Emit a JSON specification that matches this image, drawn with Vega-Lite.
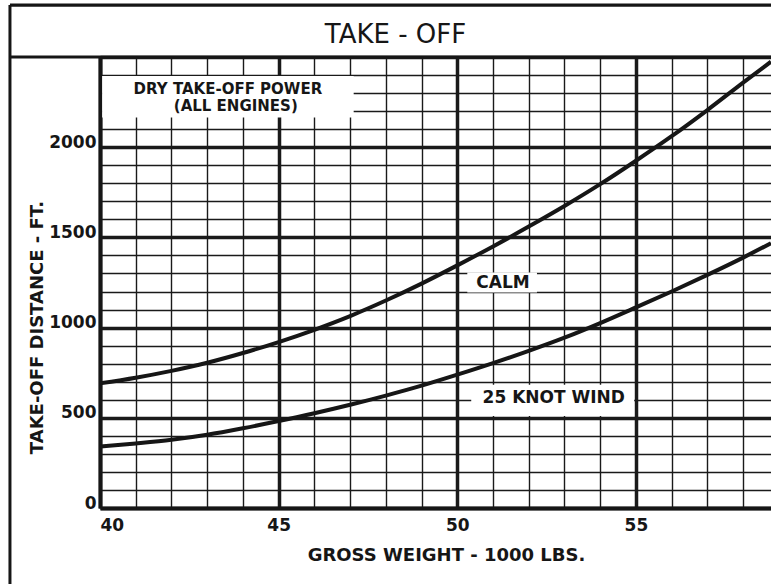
{
  "$schema": "https://vega.github.io/schema/vega-lite/v6.json",
  "width": 671,
  "height": 451,
  "autosize": {"type": "none"},
  "padding": {"left": 100, "top": 57, "right": 0, "bottom": 76},
  "background": "white",
  "config": {
    "view": {"stroke": null},
    "font": "DejaVu Sans",
    "axis": {
      "grid": true,
      "gridColor": "#1a1a1a",
      "gridOpacity": 1,
      "ticks": false,
      "domain": true,
      "domainWidth": 4,
      "domainColor": "#161616",
      "labelFont": "DejaVu Sans",
      "labelFontSize": 17,
      "labelFontWeight": "bold",
      "labelColor": "#161616",
      "labelOverlap": false,
      "labelBound": false,
      "titleFont": "DejaVu Sans",
      "titleFontSize": 18,
      "titleFontWeight": "bold",
      "titleColor": "#161616"
    }
  },
  "title": {
    "text": "TAKE - OFF",
    "fontSize": 26,
    "fontWeight": "normal",
    "font": "DejaVu Sans",
    "color": "#161616",
    "anchor": "middle",
    "frame": "group",
    "dx": -40,
    "dy": 78.75,
    "offset": 13,
    "baseline": "alphabetic"
  },
  "datasets": {
    "curves": [
      {"series": "CALM", "weight": 40, "distance": 691},
      {"series": "CALM", "weight": 41, "distance": 722},
      {"series": "CALM", "weight": 42, "distance": 760},
      {"series": "CALM", "weight": 43, "distance": 805},
      {"series": "CALM", "weight": 44, "distance": 859},
      {"series": "CALM", "weight": 45, "distance": 920},
      {"series": "CALM", "weight": 46, "distance": 988},
      {"series": "CALM", "weight": 47, "distance": 1064},
      {"series": "CALM", "weight": 48, "distance": 1150},
      {"series": "CALM", "weight": 49, "distance": 1244},
      {"series": "CALM", "weight": 50, "distance": 1345},
      {"series": "CALM", "weight": 51, "distance": 1450},
      {"series": "CALM", "weight": 52, "distance": 1560},
      {"series": "CALM", "weight": 53, "distance": 1674},
      {"series": "CALM", "weight": 54, "distance": 1795},
      {"series": "CALM", "weight": 55, "distance": 1925},
      {"series": "CALM", "weight": 56, "distance": 2061},
      {"series": "CALM", "weight": 57, "distance": 2206},
      {"series": "CALM", "weight": 58, "distance": 2358},
      {"series": "CALM", "weight": 58.78, "distance": 2474},
      {"series": "25 KNOT WIND", "weight": 40, "distance": 341},
      {"series": "25 KNOT WIND", "weight": 41, "distance": 358},
      {"series": "25 KNOT WIND", "weight": 42, "distance": 378},
      {"series": "25 KNOT WIND", "weight": 43, "distance": 406},
      {"series": "25 KNOT WIND", "weight": 44, "distance": 442},
      {"series": "25 KNOT WIND", "weight": 45, "distance": 482},
      {"series": "25 KNOT WIND", "weight": 46, "distance": 525},
      {"series": "25 KNOT WIND", "weight": 47, "distance": 572},
      {"series": "25 KNOT WIND", "weight": 48, "distance": 623},
      {"series": "25 KNOT WIND", "weight": 49, "distance": 678},
      {"series": "25 KNOT WIND", "weight": 50, "distance": 739},
      {"series": "25 KNOT WIND", "weight": 51, "distance": 803},
      {"series": "25 KNOT WIND", "weight": 52, "distance": 871},
      {"series": "25 KNOT WIND", "weight": 53, "distance": 944},
      {"series": "25 KNOT WIND", "weight": 54, "distance": 1025},
      {"series": "25 KNOT WIND", "weight": 55, "distance": 1112},
      {"series": "25 KNOT WIND", "weight": 56, "distance": 1200},
      {"series": "25 KNOT WIND", "weight": 57, "distance": 1292},
      {"series": "25 KNOT WIND", "weight": 58, "distance": 1388},
      {"series": "25 KNOT WIND", "weight": 58.78, "distance": 1468}
    ],
    "boxes": [
      {"name": "power", "x1": 40.06, "x2": 47.1, "y1": 2165, "y2": 2395},
      {"name": "calm", "x1": 50.28, "x2": 52.23, "y1": 1194, "y2": 1306},
      {"name": "wind", "x1": 50.39, "x2": 54.95, "y1": 510, "y2": 683}
    ],
    "labels": [
      {"text": "DRY TAKE-OFF POWER", "weight": 43.58, "distance": 2322, "size": "small"},
      {"text": "(ALL ENGINES)", "weight": 43.8, "distance": 2228, "size": "small"},
      {"text": "CALM", "weight": 51.28, "distance": 1250, "size": "large"},
      {"text": "25 KNOT WIND", "weight": 52.7, "distance": 611, "size": "large"}
    ]
  },
  "layer": [
    {
      "data": {"name": "curves"},
      "mark": {"type": "line", "strokeWidth": 4, "color": "#161616", "interpolate": "monotone", "clip": true},
      "encoding": {
        "x": {
          "field": "weight", "type": "quantitative",
          "scale": {"domain": [40, 58.78], "nice": false, "zero": false},
          "axis": {"orient": "bottom", "values": [40, 40.5, 41, 41.5, 42, 42.5, 43, 43.5, 44, 44.5, 45, 45.5, 46, 46.5, 47, 47.5, 48, 48.5, 49, 49.5, 50, 50.5, 51, 51.5, 52, 52.5, 53, 53.5, 54, 54.5, 55, 55.5, 56, 56.5, 57, 57.5, 58, 58.5], "format": "d", "gridWidth": {"condition": {"test": "datum.value % 5 === 0", "value": 3.5}, "value": 1.4}, "labelExpr": "datum.value % 5 === 0 ? datum.label : ''", "labelPadding": 9, "labelFlush": true, "title": "GROSS WEIGHT - 1000 LBS.", "titleX": 346, "titleY": 52, "titleAlign": "center", "titleBaseline": "alphabetic"}
        },
        "y": {
          "field": "distance", "type": "quantitative",
          "scale": {"domain": [0, 2500], "nice": false, "zero": false},
          "axis": {"orient": "left", "values": [0, 100, 200, 300, 400, 500, 600, 700, 800, 900, 1000, 1100, 1200, 1300, 1400, 1500, 1600, 1700, 1800, 1900, 2000, 2100, 2200, 2300, 2400, 2500], "format": "d", "gridWidth": {"condition": {"test": "datum.value % 500 === 0", "value": 3.5}, "value": 1.4}, "labelExpr": "datum.value % 500 === 0 && datum.value < 2500 ? datum.label : ''", "labelPadding": 4, "labelBaseline": "alphabetic", "labelFlush": false, "title": "TAKE-OFF DISTANCE - FT.", "titleAngle": 270, "titleX": -58, "titleY": 270, "titleAlign": "center", "titleBaseline": "alphabetic"}
        },
        "detail": {"field": "series", "type": "nominal"}
      }
    },
    {
      "data": {"name": "boxes"},
      "mark": {"type": "rect", "color": "white", "strokeWidth": 0},
      "encoding": {
        "x": {
          "field": "x1", "type": "quantitative",
          "scale": {"domain": [40, 58.78], "nice": false, "zero": false},
          "axis": {"orient": "bottom", "values": [40, 40.5, 41, 41.5, 42, 42.5, 43, 43.5, 44, 44.5, 45, 45.5, 46, 46.5, 47, 47.5, 48, 48.5, 49, 49.5, 50, 50.5, 51, 51.5, 52, 52.5, 53, 53.5, 54, 54.5, 55, 55.5, 56, 56.5, 57, 57.5, 58, 58.5], "format": "d", "gridWidth": {"condition": {"test": "datum.value % 5 === 0", "value": 3.5}, "value": 1.4}, "labelExpr": "datum.value % 5 === 0 ? datum.label : ''", "labelPadding": 9, "labelFlush": true, "title": "GROSS WEIGHT - 1000 LBS.", "titleX": 346, "titleY": 52, "titleAlign": "center", "titleBaseline": "alphabetic"}
        },
        "x2": {"field": "x2"},
        "y": {
          "field": "y1", "type": "quantitative",
          "scale": {"domain": [0, 2500], "nice": false, "zero": false},
          "axis": {"orient": "left", "values": [0, 100, 200, 300, 400, 500, 600, 700, 800, 900, 1000, 1100, 1200, 1300, 1400, 1500, 1600, 1700, 1800, 1900, 2000, 2100, 2200, 2300, 2400, 2500], "format": "d", "gridWidth": {"condition": {"test": "datum.value % 500 === 0", "value": 3.5}, "value": 1.4}, "labelExpr": "datum.value % 500 === 0 && datum.value < 2500 ? datum.label : ''", "labelPadding": 4, "labelBaseline": "alphabetic", "labelFlush": false, "title": "TAKE-OFF DISTANCE - FT.", "titleAngle": 270, "titleX": -58, "titleY": 270, "titleAlign": "center", "titleBaseline": "alphabetic"}
        },
        "y2": {"field": "y2"}
      }
    },
    {
      "data": {"name": "labels"},
      "mark": {"type": "text", "font": "DejaVu Sans", "fontWeight": "bold", "color": "#161616", "align": "center", "baseline": "middle"},
      "encoding": {
        "x": {
          "field": "weight", "type": "quantitative",
          "scale": {"domain": [40, 58.78], "nice": false, "zero": false},
          "axis": {"orient": "bottom", "values": [40, 40.5, 41, 41.5, 42, 42.5, 43, 43.5, 44, 44.5, 45, 45.5, 46, 46.5, 47, 47.5, 48, 48.5, 49, 49.5, 50, 50.5, 51, 51.5, 52, 52.5, 53, 53.5, 54, 54.5, 55, 55.5, 56, 56.5, 57, 57.5, 58, 58.5], "format": "d", "gridWidth": {"condition": {"test": "datum.value % 5 === 0", "value": 3.5}, "value": 1.4}, "labelExpr": "datum.value % 5 === 0 ? datum.label : ''", "labelPadding": 9, "labelFlush": true, "title": "GROSS WEIGHT - 1000 LBS.", "titleX": 346, "titleY": 52, "titleAlign": "center", "titleBaseline": "alphabetic"}
        },
        "y": {
          "field": "distance", "type": "quantitative",
          "scale": {"domain": [0, 2500], "nice": false, "zero": false},
          "axis": {"orient": "left", "values": [0, 100, 200, 300, 400, 500, 600, 700, 800, 900, 1000, 1100, 1200, 1300, 1400, 1500, 1600, 1700, 1800, 1900, 2000, 2100, 2200, 2300, 2400, 2500], "format": "d", "gridWidth": {"condition": {"test": "datum.value % 500 === 0", "value": 3.5}, "value": 1.4}, "labelExpr": "datum.value % 500 === 0 && datum.value < 2500 ? datum.label : ''", "labelPadding": 4, "labelBaseline": "alphabetic", "labelFlush": false, "title": "TAKE-OFF DISTANCE - FT.", "titleAngle": 270, "titleX": -58, "titleY": 270, "titleAlign": "center", "titleBaseline": "alphabetic"}
        },
        "text": {"field": "text", "type": "nominal"},
        "size": {"field": "size", "type": "nominal", "scale": {"domain": ["small", "large"], "range": [15, 17]}, "legend": null}
      }
    },
    {
      "data": {"values": [{"frame": "left"}]},
      "mark": {"type": "rule", "clip": false, "strokeWidth": 3, "color": "#161616"},
      "encoding": {
        "x": {
          "datum": 37.48, "type": "quantitative",
          "scale": {"domain": [40, 58.78], "nice": false, "zero": false},
          "axis": {"orient": "bottom", "values": [40, 40.5, 41, 41.5, 42, 42.5, 43, 43.5, 44, 44.5, 45, 45.5, 46, 46.5, 47, 47.5, 48, 48.5, 49, 49.5, 50, 50.5, 51, 51.5, 52, 52.5, 53, 53.5, 54, 54.5, 55, 55.5, 56, 56.5, 57, 57.5, 58, 58.5], "format": "d", "gridWidth": {"condition": {"test": "datum.value % 5 === 0", "value": 3.5}, "value": 1.4}, "labelExpr": "datum.value % 5 === 0 ? datum.label : ''", "labelPadding": 9, "labelFlush": true, "title": "GROSS WEIGHT - 1000 LBS.", "titleX": 346, "titleY": 52, "titleAlign": "center", "titleBaseline": "alphabetic"}
        },
        "y": {
          "datum": -500, "type": "quantitative",
          "scale": {"domain": [0, 2500], "nice": false, "zero": false},
          "axis": {"orient": "left", "values": [0, 100, 200, 300, 400, 500, 600, 700, 800, 900, 1000, 1100, 1200, 1300, 1400, 1500, 1600, 1700, 1800, 1900, 2000, 2100, 2200, 2300, 2400, 2500], "format": "d", "gridWidth": {"condition": {"test": "datum.value % 500 === 0", "value": 3.5}, "value": 1.4}, "labelExpr": "datum.value % 500 === 0 && datum.value < 2500 ? datum.label : ''", "labelPadding": 4, "labelBaseline": "alphabetic", "labelFlush": false, "title": "TAKE-OFF DISTANCE - FT.", "titleAngle": 270, "titleX": -58, "titleY": 270, "titleAlign": "center", "titleBaseline": "alphabetic"}
        },
        "y2": {"datum": 2788}
      }
    },
    {
      "data": {"values": [{"frame": "top", "level": 2788}, {"frame": "separator", "level": 2500}]},
      "mark": {"type": "rule", "clip": false, "strokeWidth": 3.2, "color": "#161616"},
      "encoding": {
        "x": {
          "datum": 37.48, "type": "quantitative",
          "scale": {"domain": [40, 58.78], "nice": false, "zero": false},
          "axis": {"orient": "bottom", "values": [40, 40.5, 41, 41.5, 42, 42.5, 43, 43.5, 44, 44.5, 45, 45.5, 46, 46.5, 47, 47.5, 48, 48.5, 49, 49.5, 50, 50.5, 51, 51.5, 52, 52.5, 53, 53.5, 54, 54.5, 55, 55.5, 56, 56.5, 57, 57.5, 58, 58.5], "format": "d", "gridWidth": {"condition": {"test": "datum.value % 5 === 0", "value": 3.5}, "value": 1.4}, "labelExpr": "datum.value % 5 === 0 ? datum.label : ''", "labelPadding": 9, "labelFlush": true, "title": "GROSS WEIGHT - 1000 LBS.", "titleX": 346, "titleY": 52, "titleAlign": "center", "titleBaseline": "alphabetic"}
        },
        "x2": {"datum": 59.2},
        "y": {
          "field": "level", "type": "quantitative",
          "scale": {"domain": [0, 2500], "nice": false, "zero": false},
          "axis": {"orient": "left", "values": [0, 100, 200, 300, 400, 500, 600, 700, 800, 900, 1000, 1100, 1200, 1300, 1400, 1500, 1600, 1700, 1800, 1900, 2000, 2100, 2200, 2300, 2400, 2500], "format": "d", "gridWidth": {"condition": {"test": "datum.value % 500 === 0", "value": 3.5}, "value": 1.4}, "labelExpr": "datum.value % 500 === 0 && datum.value < 2500 ? datum.label : ''", "labelPadding": 4, "labelBaseline": "alphabetic", "labelFlush": false, "title": "TAKE-OFF DISTANCE - FT.", "titleAngle": 270, "titleX": -58, "titleY": 270, "titleAlign": "center", "titleBaseline": "alphabetic"}
        }
      }
    }
  ]
}
